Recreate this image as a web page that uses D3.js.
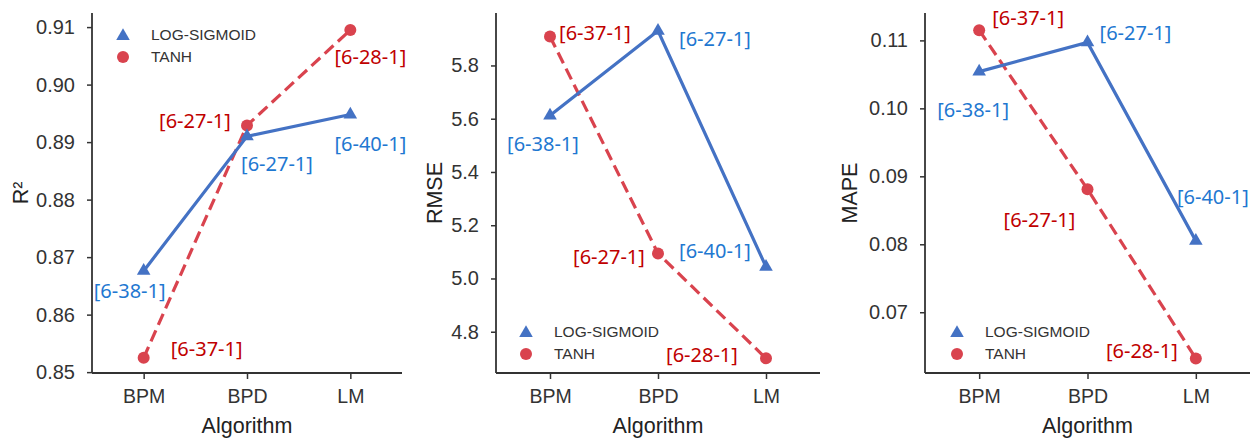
<!DOCTYPE html>
<html>
<head>
<meta charset="utf-8">
<script src="https://cdn.jsdelivr.net/npm/d3@7/dist/d3.min.js"></script>
<style>
  html, body { margin: 0; padding: 0; background: #fff; }
  svg { display: block; }
  .tick text { font-family: "Liberation Sans", Arial, sans-serif; fill: #333; }
</style>
</head>
<body>
<svg id="chart" width="1252" height="439"></svg>
<script>
// Training algorithms compared on the x axis
const algorithms = ["BPM", "BPD", "LM"];
const seriesNames = ["LOG-SIGMOID", "TANH"];

// R² per algorithm
const r2Sigmoid = [0.8676, 0.8910, 0.8948];
const r2Tanh    = [0.8525, 0.8929, 0.9095];
// RMSE per algorithm
const rmseSigmoid = [5.612, 5.930, 5.044];
const rmseTanh    = [5.909, 5.094, 4.700];
// MAPE per algorithm
const mapeSigmoid = [0.1054, 0.1097, 0.0805];
const mapeTanh    = [0.1115, 0.0881, 0.0632];

// Best network topology for each point
const topoSigmoid = ["[6-38-1]", "[6-27-1]", "[6-40-1]"];
const topoTanh    = ["[6-37-1]", "[6-27-1]", "[6-28-1]"];

// Tick values per panel
const r2Ticks   = [0.85, 0.86, 0.87, 0.88, 0.89, 0.90, 0.91];
const rmseTicks = [4.8, 5.0, 5.2, 5.4, 5.6, 5.8];
const mapeTicks = [0.07, 0.08, 0.09, 0.10, 0.11];

const BLUE = "#4472c4", RED = "#d9434e";
const BLUE_TXT = "#1f78d1", RED_TXT = "#c00000";

const svg = d3.select("#chart");

const panels = [
  {
    ylabel: "R²", sig: r2Sigmoid, tanh: r2Tanh, ticks: r2Ticks, fmt: d3.format(".2f"),
    left: 92, right: 402, top: 13, bottom: 373, ydom: [0.84985, 0.91245],
    ylabX: 20, legend: { x: 123, y: 35 },
    sigOff: [[-14, 20], [30, 28], [20, 29]],
    tanhOff: [[63, -9], [-52, -4], [20, 27]]
  },
  {
    ylabel: "RMSE", sig: rmseSigmoid, tanh: rmseTanh, ticks: rmseTicks, fmt: d3.format(".1f"),
    left: 496, right: 820, top: 13, bottom: 373, ydom: [4.645, 5.997],
    ylabX: 434, legend: { x: 526, y: 332 },
    sigOff: [[-7, 28], [57, 8], [-51, -16]],
    tanhOff: [[45, -3], [-49, 4], [-64, -3]]
  },
  {
    ylabel: "MAPE", sig: mapeSigmoid, tanh: mapeTanh, ticks: mapeTicks, fmt: d3.format(".2f"),
    left: 925, right: 1250, top: 13, bottom: 373, ydom: [0.06106, 0.11403],
    ylabX: 849, legend: { x: 957, y: 332 },
    sigOff: [[-6, 38], [48, -9], [17, -44]],
    tanhOff: [[49, -12], [-48, 31], [-54, -7]]
  }
];

const tri = d3.symbol().type(d3.symbolTriangle).size(80);

panels.forEach(p => {
  const g = svg.append("g");
  const x = d3.scalePoint().domain(algorithms).range([p.left, p.right]).padding(0.5);
  const y = d3.scaleLinear().domain(p.ydom).range([p.bottom, p.top]);

  // axes
  const yAxis = g.append("g").attr("transform", `translate(${p.left},0)`)
    .call(d3.axisLeft(y).tickValues(p.ticks).tickFormat(p.fmt).tickSize(5).tickPadding(12));
  const xAxis = g.append("g").attr("transform", `translate(0,${p.bottom})`)
    .call(d3.axisBottom(x).tickSize(6).tickPadding(10));
  [yAxis, xAxis].forEach(a => {
    a.select(".domain").attr("stroke", "#333").attr("stroke-width", 1.8);
    a.selectAll(".tick line").attr("stroke", "#333").attr("stroke-width", 1.5);
  });
  yAxis.selectAll(".tick text").attr("font-size", 20);
  xAxis.selectAll(".tick text").attr("font-size", 19.5);
  // the axis domain path includes outer ticks; redraw plain spines
  yAxis.select(".domain").attr("d", `M0,${p.top}V${p.bottom}`);
  xAxis.select(".domain").attr("d", `M${p.left},0H${p.right}`);

  // axis titles
  g.append("text").attr("x", (p.left + p.right) / 2).attr("y", 425)
    .attr("text-anchor", "middle").attr("dy", "0.35em")
    .attr("font-family", "Liberation Sans, Arial, sans-serif").attr("font-size", 21.5).attr("fill", "#222")
    .text("Algorithm");
  g.append("text").attr("transform", `translate(${p.ylabX},${(p.top + p.bottom) / 2}) rotate(-90)`)
    .attr("text-anchor", "middle").attr("dy", "0.35em")
    .attr("font-family", "Liberation Sans, Arial, sans-serif").attr("font-size", 21.5).attr("fill", "#222")
    .text(p.ylabel);

  const line = d3.line().x((d, i) => x(algorithms[i])).y(d => y(d));

  // TANH series (dashed, circles)
  g.append("path").datum(p.tanh).attr("d", line).attr("fill", "none")
    .attr("stroke", RED).attr("stroke-width", 3.2).attr("stroke-dasharray", "12,6");
  g.selectAll(".tc").data(p.tanh).join("circle")
    .attr("cx", (d, i) => x(algorithms[i])).attr("cy", d => y(d)).attr("r", 6)
    .attr("fill", RED);

  // LOG-SIGMOID series (solid, triangles)
  g.append("path").datum(p.sig).attr("d", line).attr("fill", "none")
    .attr("stroke", BLUE).attr("stroke-width", 3.2);
  g.selectAll(".ts").data(p.sig).join("path")
    .attr("d", tri).attr("fill", BLUE)
    .attr("transform", (d, i) => `translate(${x(algorithms[i])},${y(d)})`);

  // topology labels
  const lab = (vals, names, offs, color) => {
    g.selectAll(null).data(vals).join("text")
      .attr("x", (d, i) => x(algorithms[i]) + offs[i][0])
      .attr("y", (d, i) => y(d) + offs[i][1])
      .attr("text-anchor", "middle").attr("dy", "0.35em")
      .attr("font-family", "Noto Sans, Open Sans, sans-serif").attr("font-size", 20)
      .attr("fill", color)
      .text((d, i) => names[i]);
  };
  lab(p.sig, topoSigmoid, p.sigOff, BLUE_TXT);
  lab(p.tanh, topoTanh, p.tanhOff, RED_TXT);

  // legend
  const lg = g.append("g").attr("transform", `translate(${p.legend.x},${p.legend.y})`);
  lg.append("path").attr("d", tri).attr("fill", BLUE).attr("transform", "translate(0,1)");
  lg.append("circle").attr("cx", 0).attr("cy", 22).attr("r", 6).attr("fill", RED);
  seriesNames.forEach((n, i) => {
    lg.append("text").attr("x", 28).attr("y", i * 22).attr("dy", "0.35em")
      .attr("font-family", "Liberation Sans, Arial, sans-serif").attr("font-size", 15.5)
      .attr("fill", "#333").text(n);
  });
});
</script>
</body>
</html>
